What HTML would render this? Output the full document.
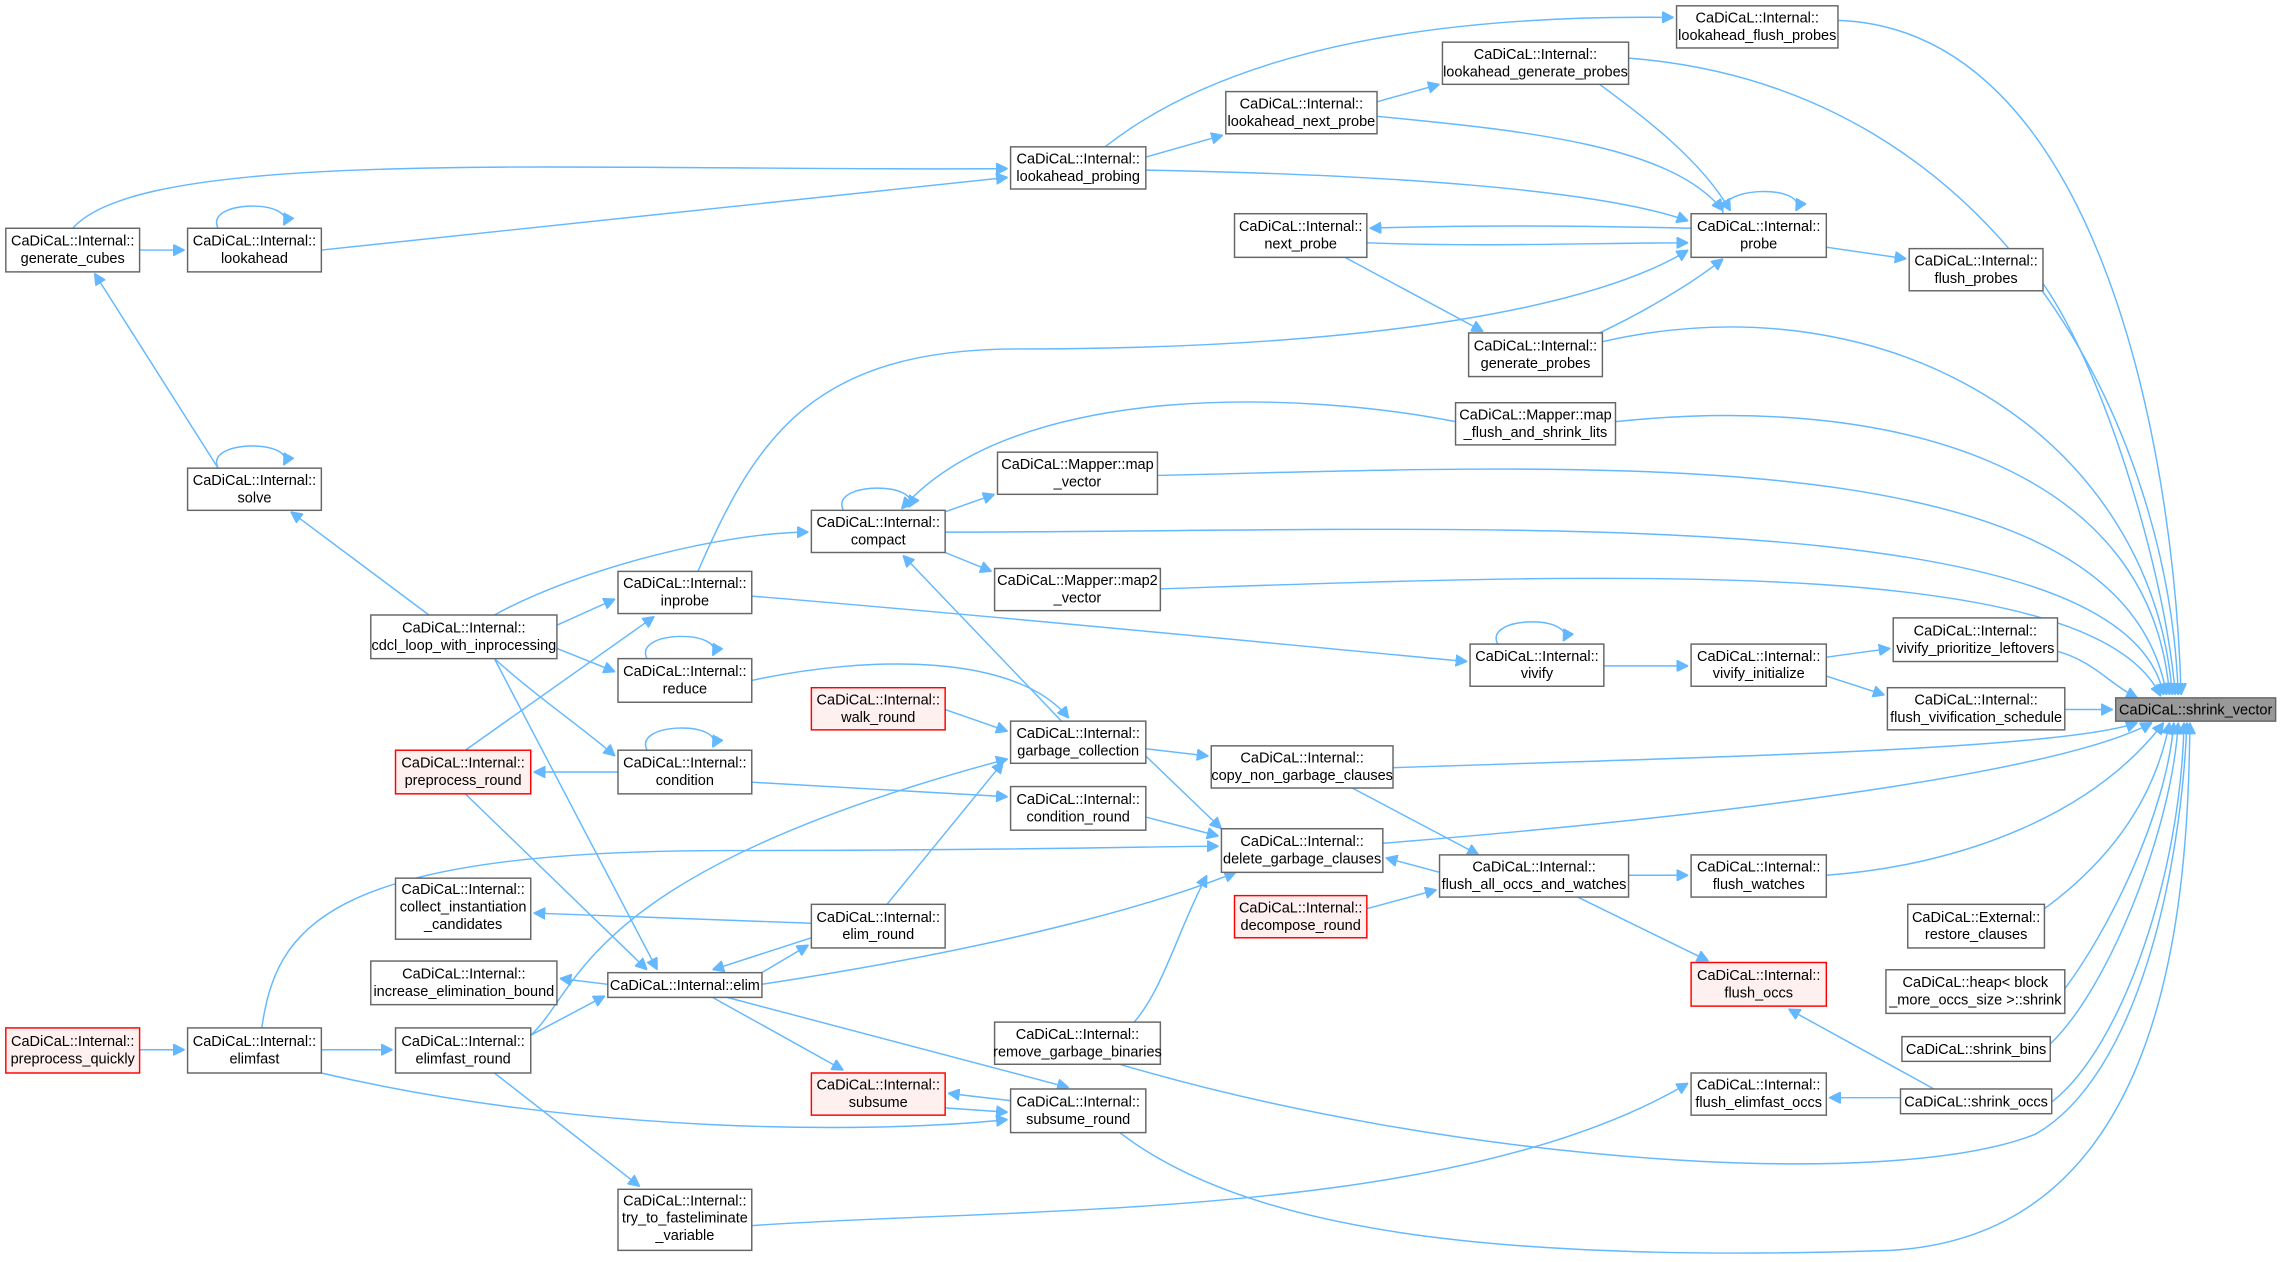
<!DOCTYPE html>
<html><head><meta charset="utf-8"><style>
html,body{margin:0;padding:0;background:#fff;}
svg{display:block}
text{font-family:"Liberation Sans",sans-serif;font-size:10px;fill:#000;text-anchor:middle}
.n{fill:#fff;stroke:#666;stroke-width:1}
.r{fill:#fff0f0;stroke:#f00;stroke-width:1}
.g{fill:#999;stroke:#666;stroke-width:1}
path{fill:none;stroke:#63b8ff;stroke-width:1}
</style></head><body>
<svg width="2280" height="1262" viewBox="0 0 1568 868" preserveAspectRatio="none" xmlns="http://www.w3.org/2000/svg">
<defs><marker id="a" viewBox="0 0 10 10" refX="10" refY="5" markerWidth="8" markerHeight="8" markerUnits="userSpaceOnUse" orient="auto"><path d="M0,0L10,5L0,10z" style="fill:#63b8ff;stroke:#63b8ff"/></marker></defs>
<g marker-end="url(#a)">
<!-- into shrink_vector -->
<path d="M1264,14 C1440,20 1495,300 1500,478"/>
<path d="M1120,40 C1380,60 1492,300 1498,478"/>
<path d="M1405,195 C1450,260 1490,400 1496,478"/>
<path d="M1102,235 C1300,190 1480,300 1494,478"/>
<path d="M1111,290 C1300,270 1480,320 1492,478"/>
<path d="M796,327 C1100,320 1460,300 1490,478"/>
<path d="M650,366 C1000,366 1460,340 1488,478"/>
<path d="M798,405 C1100,395 1440,380 1486,479"/>
<path d="M1415,448 C1440,455 1450,470 1470,480"/>
<path d="M1420,488 L1453,488"/>
<path d="M958,528 C1200,520 1420,515 1470,497"/>
<path d="M951,580 C1200,560 1420,530 1480,497"/>
<path d="M1256,602 C1350,595 1440,560 1488,497"/>
<path d="M1406,625 C1440,600 1480,560 1492,497"/>
<path d="M1420,680 C1450,640 1490,560 1495,497"/>
<path d="M1410,718 C1450,680 1494,570 1498,497"/>
<path d="M1411,758 C1460,720 1500,600 1502,497"/>
<path d="M770,732 C1000,800 1300,820 1400,780 C1470,740 1500,600 1504,497"/>
<path d="M770,779 C850,840 1000,870 1300,860 C1480,850 1505,650 1506,497"/>
<!-- top area -->
<path d="M760,101 C850,30 1000,10 1151,12"/>
<path d="M947,70 L990,58"/>
<path d="M788,108 L841,93"/>
<path d="M788,117 C950,120 1100,130 1161,152"/>
<path d="M50,157 C100,100 400,118 693,116"/>
<path d="M221,172 L693,122"/>
<path d="M96,172 L127,172"/>
<path d="M150,157 C140,137 205,137 195,155"/>
<path d="M150,322 C140,302 205,302 195,320"/>
<path d="M1185,147 C1180,127 1245,127 1235,145"/>
<path d="M947,80 C1050,90 1150,100 1185,145"/>
<path d="M1100,58 C1130,80 1170,110 1190,145"/>
<path d="M1163,157 C1080,155 1000,155 942,157"/>
<path d="M940,167 C1020,170 1100,167 1161,167"/>
<path d="M925,177 L1020,228"/>
<path d="M1100,229 C1140,210 1170,190 1185,178"/>
<path d="M1256,170 L1311,178"/>
<path d="M480,393 C520,300 560,240 700,240 C950,240 1100,210 1161,172"/>
<path d="M150,322 L65,188"/>
<path d="M295,423 L200,352"/>
<!-- middle -->
<path d="M1001,290 C900,270 700,260 620,350"/>
<path d="M580,351 C570,331 635,331 625,349"/>
<path d="M650,352 L684,340"/>
<path d="M650,380 L682,393"/>
<path d="M340,423 C400,390 500,366 556,366"/>
<path d="M383,430 L423,412"/>
<path d="M383,446 L423,462"/>
<path d="M340,453 C370,480 400,500 423,520"/>
<path d="M517,410 C700,425 900,445 1009,455"/>
<path d="M1030,443 C1020,423 1085,423 1075,441"/>
<path d="M1103,458 L1161,458"/>
<path d="M1256,452 L1300,446"/>
<path d="M1256,465 L1296,478"/>
<path d="M445,453 C435,433 500,433 490,451"/>
<path d="M445,516 C435,496 500,496 490,514"/>
<path d="M517,468 C600,450 700,450 735,494"/>
<path d="M730,496 L621,382"/>
<path d="M650,488 L693,503"/>
<path d="M788,515 L831,520"/>
<path d="M788,520 L840,570"/>
<path d="M320,516 L450,424"/>
<path d="M425,531 L367,531"/>
<path d="M517,538 L693,548"/>
<path d="M788,562 L838,575"/>
<path d="M990,600 L953,590"/>
<path d="M930,542 L1017,588"/>
<path d="M1120,602 L1161,602"/>
<path d="M940,625 L988,612"/>
<path d="M1085,617 L1175,661"/>
<path d="M180,707 C190,640 220,585 500,585 C700,585 800,582 838,582"/>
<path d="M524,677 C700,650 800,620 850,600"/>
<path d="M780,703 C800,680 810,640 830,602"/>
<path d="M610,622 L690,524"/>
<path d="M365,712 C400,680 400,600 693,522"/>
<path d="M340,453 L452,667"/>
<path d="M320,546 L445,667"/>
<path d="M558,635 L367,628"/>
<path d="M558,645 L490,667"/>
<path d="M524,669 L556,650"/>
<path d="M418,677 L385,673"/>
<path d="M365,712 L416,685"/>
<path d="M221,722 L270,722"/>
<path d="M96,722 L127,722"/>
<path d="M490,686 L580,736"/>
<path d="M500,686 L735,748"/>
<path d="M695,757 L652,752"/>
<path d="M650,762 L693,765"/>
<path d="M221,738 C400,780 600,780 693,770"/>
<path d="M340,738 L440,816"/>
<path d="M517,843 C700,830 1000,840 1161,745"/>
<path d="M1307,755 L1258,755"/>
<path d="M1330,749 L1230,694"/>
</g>
<g>
<rect class="g" x="1455" y="480" width="110" height="16"/><text x="1510" y="491.5">CaDiCaL::shrink_vector</text>
<rect class="n" x="1153" y="4" width="111" height="29"/><text x="1208.5" y="15.5">CaDiCaL::Internal::</text><text x="1208.5" y="27.5">lookahead_flush_probes</text>
<rect class="n" x="992" y="29" width="128" height="29"/><text x="1056" y="40.5">CaDiCaL::Internal::</text><text x="1056" y="52.5">lookahead_generate_probes</text>
<rect class="n" x="843" y="63" width="104" height="29"/><text x="895" y="74.5">CaDiCaL::Internal::</text><text x="895" y="86.5">lookahead_next_probe</text>
<rect class="n" x="695" y="101" width="93" height="29"/><text x="741.5" y="112.5">CaDiCaL::Internal::</text><text x="741.5" y="124.5">lookahead_probing</text>
<rect class="n" x="4" y="157" width="92" height="30"/><text x="50" y="169">CaDiCaL::Internal::</text><text x="50" y="181">generate_cubes</text>
<rect class="n" x="129" y="157" width="92" height="30"/><text x="175" y="169">CaDiCaL::Internal::</text><text x="175" y="181">lookahead</text>
<rect class="n" x="849" y="147" width="91" height="30"/><text x="894.5" y="159">CaDiCaL::Internal::</text><text x="894.5" y="171">next_probe</text>
<rect class="n" x="1163" y="147" width="93" height="30"/><text x="1209.5" y="159">CaDiCaL::Internal::</text><text x="1209.5" y="171">probe</text>
<rect class="n" x="1313" y="171" width="92" height="29"/><text x="1359" y="182.5">CaDiCaL::Internal::</text><text x="1359" y="194.5">flush_probes</text>
<rect class="n" x="1010" y="229" width="92" height="30"/><text x="1056" y="241">CaDiCaL::Internal::</text><text x="1056" y="253">generate_probes</text>
<rect class="n" x="1001" y="277" width="110" height="29"/><text x="1056" y="288.5">CaDiCaL::Mapper::map</text><text x="1056" y="300.5">_flush_and_shrink_lits</text>
<rect class="n" x="129" y="322" width="92" height="29"/><text x="175" y="333.5">CaDiCaL::Internal::</text><text x="175" y="345.5">solve</text>
<rect class="n" x="686" y="311" width="110" height="29"/><text x="741" y="322.5">CaDiCaL::Mapper::map</text><text x="741" y="334.5">_vector</text>
<rect class="n" x="558" y="351" width="92" height="29"/><text x="604" y="362.5">CaDiCaL::Internal::</text><text x="604" y="374.5">compact</text>
<rect class="n" x="425" y="393" width="92" height="29"/><text x="471" y="404.5">CaDiCaL::Internal::</text><text x="471" y="416.5">inprobe</text>
<rect class="n" x="684" y="391" width="114" height="29"/><text x="741" y="402.5">CaDiCaL::Mapper::map2</text><text x="741" y="414.5">_vector</text>
<rect class="n" x="255" y="423" width="128" height="30"/><text x="319" y="435">CaDiCaL::Internal::</text><text x="319" y="447">cdcl_loop_with_inprocessing</text>
<rect class="n" x="425" y="453" width="92" height="30"/><text x="471" y="465">CaDiCaL::Internal::</text><text x="471" y="477">reduce</text>
<rect class="n" x="1011" y="443" width="92" height="29"/><text x="1057" y="454.5">CaDiCaL::Internal::</text><text x="1057" y="466.5">vivify</text>
<rect class="n" x="1163" y="443" width="93" height="29"/><text x="1209.5" y="454.5">CaDiCaL::Internal::</text><text x="1209.5" y="466.5">vivify_initialize</text>
<rect class="n" x="1302" y="425" width="113" height="30"/><text x="1358.5" y="437">CaDiCaL::Internal::</text><text x="1358.5" y="449">vivify_prioritize_leftovers</text>
<rect class="n" x="1298" y="473" width="122" height="29"/><text x="1359" y="484.5">CaDiCaL::Internal::</text><text x="1359" y="496.5">flush_vivification_schedule</text>
<rect class="r" x="558" y="473" width="92" height="29"/><text x="604" y="484.5">CaDiCaL::Internal::</text><text x="604" y="496.5">walk_round</text>
<rect class="n" x="695" y="496" width="93" height="29"/><text x="741.5" y="507.5">CaDiCaL::Internal::</text><text x="741.5" y="519.5">garbage_collection</text>
<rect class="n" x="833" y="513" width="125" height="29"/><text x="895.5" y="524.5">CaDiCaL::Internal::</text><text x="895.5" y="536.5">copy_non_garbage_clauses</text>
<rect class="r" x="272" y="516" width="93" height="30"/><text x="318.5" y="528">CaDiCaL::Internal::</text><text x="318.5" y="540">preprocess_round</text>
<rect class="n" x="425" y="516" width="92" height="30"/><text x="471" y="528">CaDiCaL::Internal::</text><text x="471" y="540">condition</text>
<rect class="n" x="695" y="541" width="93" height="30"/><text x="741.5" y="553">CaDiCaL::Internal::</text><text x="741.5" y="565">condition_round</text>
<rect class="n" x="840" y="570" width="111" height="30"/><text x="895.5" y="582">CaDiCaL::Internal::</text><text x="895.5" y="594">delete_garbage_clauses</text>
<rect class="n" x="990" y="588" width="130" height="29"/><text x="1055" y="599.5">CaDiCaL::Internal::</text><text x="1055" y="611.5">flush_all_occs_and_watches</text>
<rect class="n" x="1163" y="588" width="93" height="29"/><text x="1209.5" y="599.5">CaDiCaL::Internal::</text><text x="1209.5" y="611.5">flush_watches</text>
<rect class="n" x="272" y="604" width="93" height="42"/><text x="318.5" y="615">CaDiCaL::Internal::</text><text x="318.5" y="627">collect_instantiation</text><text x="318.5" y="639">_candidates</text>
<rect class="n" x="558" y="622" width="92" height="30"/><text x="604" y="634">CaDiCaL::Internal::</text><text x="604" y="646">elim_round</text>
<rect class="r" x="849" y="616" width="91" height="29"/><text x="894.5" y="627.5">CaDiCaL::Internal::</text><text x="894.5" y="639.5">decompose_round</text>
<rect class="n" x="1312" y="622" width="94" height="30"/><text x="1359" y="634">CaDiCaL::External::</text><text x="1359" y="646">restore_clauses</text>
<rect class="n" x="255" y="661" width="128" height="30"/><text x="319" y="673">CaDiCaL::Internal::</text><text x="319" y="685">increase_elimination_bound</text>
<rect class="n" x="418" y="669" width="106" height="17"/><text x="471" y="681">CaDiCaL::Internal::elim</text>
<rect class="r" x="1163" y="662" width="93" height="30"/><text x="1209.5" y="674">CaDiCaL::Internal::</text><text x="1209.5" y="686">flush_occs</text>
<rect class="n" x="1297" y="667" width="123" height="30"/><text x="1358.5" y="679">CaDiCaL::heap&lt; block</text><text x="1358.5" y="691">_more_occs_size &gt;::shrink</text>
<rect class="r" x="4" y="707" width="92" height="31"/><text x="50" y="719.5">CaDiCaL::Internal::</text><text x="50" y="731.5">preprocess_quickly</text>
<rect class="n" x="129" y="707" width="92" height="31"/><text x="175" y="719.5">CaDiCaL::Internal::</text><text x="175" y="731.5">elimfast</text>
<rect class="n" x="272" y="707" width="93" height="31"/><text x="318.5" y="719.5">CaDiCaL::Internal::</text><text x="318.5" y="731.5">elimfast_round</text>
<rect class="n" x="684" y="703" width="114" height="29"/><text x="741" y="714.5">CaDiCaL::Internal::</text><text x="741" y="726.5">remove_garbage_binaries</text>
<rect class="n" x="1308" y="713" width="102" height="17"/><text x="1359" y="725">CaDiCaL::shrink_bins</text>
<rect class="n" x="1163" y="738" width="93" height="29"/><text x="1209.5" y="749.5">CaDiCaL::Internal::</text><text x="1209.5" y="761.5">flush_elimfast_occs</text>
<rect class="n" x="1307" y="749" width="104" height="17"/><text x="1359" y="761">CaDiCaL::shrink_occs</text>
<rect class="r" x="558" y="738" width="92" height="29"/><text x="604" y="749.5">CaDiCaL::Internal::</text><text x="604" y="761.5">subsume</text>
<rect class="n" x="695" y="749" width="93" height="30"/><text x="741.5" y="761">CaDiCaL::Internal::</text><text x="741.5" y="773">subsume_round</text>
<rect class="n" x="425" y="818" width="92" height="42"/><text x="471" y="829">CaDiCaL::Internal::</text><text x="471" y="841">try_to_fasteliminate</text><text x="471" y="853">_variable</text>
</g>
</svg>
</body></html>
